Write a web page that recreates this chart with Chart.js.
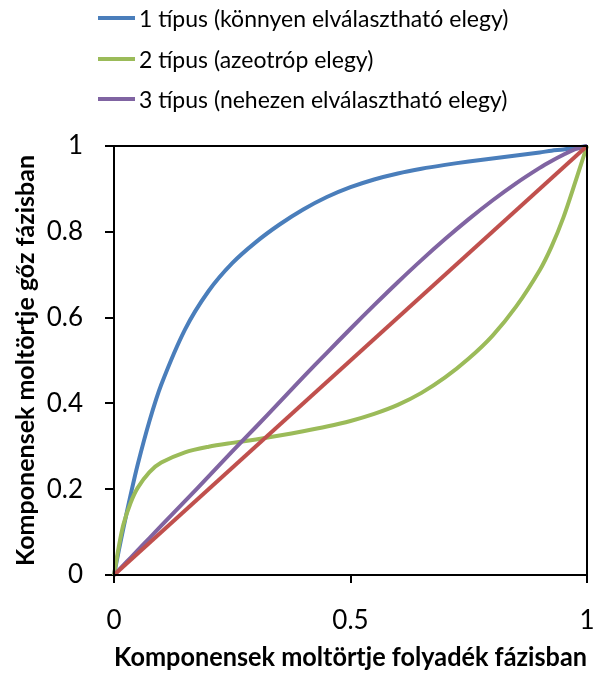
<!DOCTYPE html>
<html>
<head>
<meta charset="utf-8">
<script src="https://cdn.jsdelivr.net/npm/chart.js@4.4.0/dist/chart.umd.min.js"></script>
<style>
  body { margin: 0; background: #fff; }
  #wrap { position: relative; width: 595px; height: 673px; }
  #legend { position: absolute; left: 98px; top: 0; font-family: Lato, sans-serif; font-size: 23px; color: #000; }
  .item { position: absolute; left: 0; white-space: nowrap; height: 28px; line-height: 28px; display: flex; align-items: center; }
  .swatch { display: inline-block; width: 37px; height: 4px; margin-right: 4px; }
</style>
</head>
<body>
<div id="wrap">
  <canvas id="vle" width="595" height="673"></canvas>
  <div id="legend"></div>
</div>
<script>
// liquid mole fraction (x axis)
var xs = [0, 0.01, 0.02, 0.035, 0.05, 0.075, 0.1, 0.15, 0.2, 0.25, 0.3, 0.35, 0.4,
          0.45, 0.5, 0.55, 0.6, 0.65, 0.7, 0.75, 0.8, 0.85, 0.9, 0.925, 0.95, 0.975, 1];

// vapour mole fraction for each type
var tipus1 = [0, 0.056, 0.11, 0.186, 0.257, 0.359, 0.444, 0.572, 0.662, 0.727, 0.776, 0.817, 0.852,
              0.881, 0.904, 0.922, 0.936, 0.947, 0.956, 0.964, 0.971, 0.978, 0.985, 0.989, 0.992, 0.996, 1];
var tipus2 = [0, 0.065, 0.118, 0.168, 0.203, 0.24, 0.262, 0.286, 0.299, 0.308, 0.316, 0.325, 0.335,
              0.346, 0.359, 0.3755, 0.3965, 0.4245, 0.4605, 0.5045, 0.5575, 0.6255, 0.7105, 0.7655, 0.833, 0.915, 1];
var tipus3 = [0, 0.0115, 0.023, 0.04, 0.0575, 0.086, 0.115, 0.172, 0.23, 0.288, 0.345, 0.403, 0.461,
              0.518, 0.574, 0.629, 0.6825, 0.734, 0.783, 0.8295, 0.873, 0.913, 0.949, 0.965, 0.9795, 0.9925, 1];

// diagonal (y = x)
var diagX = [0, 1];
var diagY = [0, 1];

var labels = ['1 típus (könnyen elválasztható elegy)',
              '2 típus (azeotróp elegy)',
              '3 típus (nehezen elválasztható elegy)'];

var xTicks = [0, 0.5, 1];
var yTicks = [0, 0.2, 0.4, 0.6, 0.8, 1];

function pts(xv, yv) {
    return xv.map(function (x, i) { return { x: x, y: yv[i] }; });
}

function series(label, data, color, order) {
    return {
        label: label,
        data: data,
        borderColor: color,
        backgroundColor: color,
        borderWidth: 4,
        pointRadius: 0,
        fill: false,
        tension: 0.3,
        clip: false,
        order: order
    };
}

var frame = {
    id: 'frame',
    afterDraw: function (chart) {
        var a = chart.chartArea, ctx = chart.ctx;
        ctx.save();
        ctx.strokeStyle = '#000';
        ctx.lineWidth = 2;
        ctx.strokeRect(a.left, a.top, a.right - a.left, a.bottom - a.top);
        ctx.restore();
    }
};

var tickFont = { family: 'Lato', size: 26 };

var myChart = new Chart(document.getElementById('vle'), {
    type: 'line',
    data: {
        datasets: [
            series(labels[0], pts(xs, tipus1), '#4A7EBB', 4),
            series(labels[1], pts(xs, tipus2), '#9BBB59', 3),
            series(labels[2], pts(xs, tipus3), '#8064A2', 2),
            series('y = x', pts(diagX, diagY), '#C0504D', 1)
        ]
    },
    options: {
        responsive: false,
        animation: false,
        layout: { padding: { left: 0, right: 8, top: 146, bottom: 0 } },
        plugins: {
            legend: { display: false },
            tooltip: { enabled: false }
        },
        scales: {
            x: {
                type: 'linear',
                min: 0,
                max: 1,
                afterBuildTicks: function (s) { s.ticks = xTicks.map(function (v) { return { value: v }; }); },
                afterFit: function (s) { s.height = 98; s.paddingLeft = 0; s.paddingRight = 0; },
                ticks: { font: tickFont, color: '#000', padding: 22, maxRotation: 0,
                         callback: function (v) { return String(v); } },
                grid: { drawOnChartArea: false, drawTicks: true, tickLength: 8, color: '#000', lineWidth: 2 },
                border: { display: true, color: '#000', width: 2 },
                title: { display: true, text: 'Komponensek moltörtje folyadék fázisban',
                         font: { family: 'Lato', size: 26, weight: 'bold' }, color: '#000',
                         padding: { top: 0, bottom: 0 } }
            },
            y: {
                type: 'linear',
                min: 0,
                max: 1,
                afterBuildTicks: function (s) { s.ticks = yTicks.map(function (v) { return { value: v }; }); },
                afterFit: function (s) { s.width = 114; s.paddingTop = 0; s.paddingBottom = 0; },
                ticks: { font: tickFont, color: '#000', padding: 22,
                         callback: function (v) { return String(v); } },
                grid: { drawOnChartArea: false, drawTicks: true, tickLength: 9, color: '#000', lineWidth: 2 },
                border: { display: true, color: '#000', width: 2 },
                title: { display: true, text: 'Komponensek moltörtje gőz fázisban',
                         font: { family: 'Lato', size: 25, weight: 'bold' }, color: '#000',
                         padding: { top: 11, bottom: 0 } }
            }
        }
    },
    plugins: [frame]
});

// legend: one row per named series
var rowY = [18, 59, 99];
var legend = document.getElementById('legend');
myChart.data.datasets.slice(0, 3).forEach(function (ds, i) {
    var row = document.createElement('div');
    row.className = 'item';
    row.style.top = (rowY[i] - 14) + 'px';
    var sw = document.createElement('span');
    sw.className = 'swatch';
    sw.style.background = ds.borderColor;
    var tx = document.createElement('span');
    tx.textContent = ds.label;
    row.appendChild(sw);
    row.appendChild(tx);
    legend.appendChild(row);
});
</script>
</body>
</html>
